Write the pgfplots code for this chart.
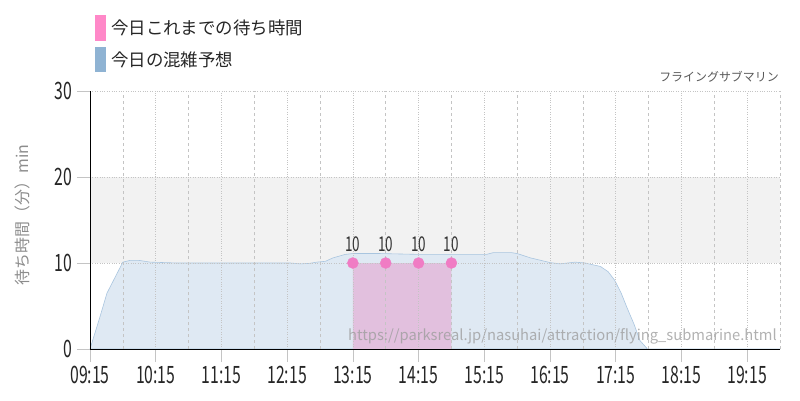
\documentclass[border=0pt]{standalone}
\usepackage{fontspec}
\setmainfont{Noto Sans CJK JP}
\usepackage{graphicx}
\usepackage{pgfplots}
\pgfplotsset{compat=1.18}

\definecolor{bandgray}{HTML}{F2F2F2}
\definecolor{fcfill}{HTML}{DFE9F3}
\definecolor{fcline}{HTML}{A9C5DF}
\definecolor{fclegend}{HTML}{8FB3D3}
\definecolor{waitfill}{HTML}{E2C0DE}
\definecolor{waitdot}{HTML}{F07CC4}
\definecolor{waitlegend}{HTML}{FF88C8}
\definecolor{gridc}{HTML}{C4C4C4}

\newcommand\cnd[2]{\scalebox{0.66}[1]{\fontsize{#1}{#1}\selectfont #2}}

\begin{document}
\begin{tikzpicture}[x=1bp,y=1bp]
\useasboundingbox (-90,-51) rectangle (710,349);
\begin{axis}[
    at={(0,0)}, anchor=south west,
    scale only axis,
    width=690bp, height=258bp,
    xmin=0, xmax=630,
    ymin=0, ymax=30,
    axis on top,
    axis x line*=bottom, axis y line*=left,
    axis line style={black, line width=0.8pt},
    /pgf/number format/assume math mode=true,
    xtick={0,60,...,600},
    xticklabels={\cnd{24}{09:15},\cnd{24}{10:15},\cnd{24}{11:15},\cnd{24}{12:15},
      \cnd{24}{13:15},\cnd{24}{14:15},\cnd{24}{15:15},\cnd{24}{16:15},
      \cnd{24}{17:15},\cnd{24}{18:15},\cnd{24}{19:15}},
    minor xtick={30,90,...,630},
    ytick={0,10,20,30},
    yticklabels={\cnd{24}{0},\cnd{24}{10},\cnd{24}{20},\cnd{24}{30}},
    tick align=outside,
    major tick length=13bp,
    minor tick length=0pt,
    tick style={gridc, line width=0.6pt},
    xmajorgrids, xminorgrids, ymajorgrids,
    major grid style={gridc, dotted, line width=0.6pt},
    minor grid style={gridc, dashed, line width=0.5pt},
    xticklabel style={text=black!85, yshift=-1bp},
    yticklabel style={text=black!85, xshift=-1bp},
    clip=false,
]
% band 10-20
\addplot[fill=bandgray, draw=none] coordinates {(0,10) (630,10) (630,20) (0,20)} -- cycle;
% forecast
\addplot[fill=fcfill, draw=fcline, line width=0.6pt] coordinates {
  (0,0) (9,3.7) (15.5,6.5) (30,10.1) (36.5,10.3) (45,10.3) (55,10.1)
  (80,10.0) (120,10.0) (150,10.0) (183,10.0) (192,9.9) (200,9.95) (207,10.1)
  (215,10.2) (222,10.6) (233,11.0) (240,11.1) (265,11.1) (300,11.0) (340,11.0)
  (362,11.0) (368,11.2) (385,11.2) (390,11.1) (402,10.6) (420,10.05) (429,9.9)
  (443,10.1) (452,10.0) (466,9.6) (473,9.0) (479,8.0) (485,6.5) (490,4.9)
  (497,2.8) (502,1.0) (509,0) (530,0) (630,0)
} \closedcycle;
% wait so far
\addplot[fill=waitfill, draw=none] coordinates {(240,10) (270,10) (300,10) (330,10)} \closedcycle;
\addplot[only marks, mark=*, mark size=5.5bp, color=waitdot,
  mark options={draw=waitdot, fill=waitdot},
  point meta=explicit symbolic,
  nodes near coords={\cnd{20.5}{\pgfplotspointmeta}},
  nodes near coords style={text=black!80, anchor=south, inner sep=0pt, yshift=11bp}]
  coordinates {(240,10)[10] (270,10)[10] (300,10)[10] (330,10)[10]};
\end{axis}
% legend
\fill[waitlegend] (5,308) rectangle (16,334);
\node[anchor=west, font=\fontsize{17.5}{18}\selectfont, text=black!85, inner sep=0pt] at (21,321) {今日これまでの待ち時間};
\fill[fclegend] (5,277) rectangle (16,302);
\node[anchor=west, font=\fontsize{17.5}{18}\selectfont, text=black!85, inner sep=0pt] at (21,289.5) {今日の混雑予想};
% title
\node[anchor=east, font=\fontsize{12}{12}\selectfont, text=black!65, inner sep=0pt] at (689,272) {フライングサブマリン};
% y label
\node[rotate=90, font=\fontsize{16}{16}\selectfont, text=black!45, inner sep=0pt] at (-68,134) {待ち時間（分）min};
% watermark
\node[anchor=west, font=\fontsize{14.8}{15}\selectfont, text=black!38, opacity=0.8, inner sep=0pt] at (258,13) {https://parksreal.jp/nasuhai/attraction/flying\_submarine.html};
\end{tikzpicture}
\end{document}
